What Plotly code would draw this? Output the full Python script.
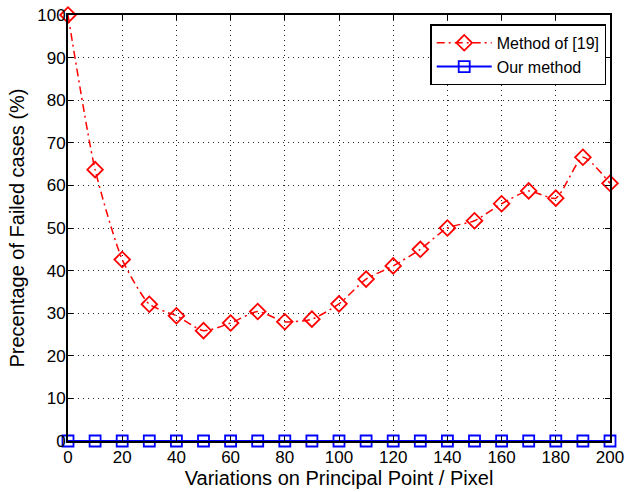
import plotly.graph_objects as go

x_vals = [0, 10, 20, 30, 40, 50, 60, 70, 80, 90, 100, 110, 120, 130, 140, 150, 160, 170, 180, 190, 200]
method19 = [100, 63.7, 42.6, 32.1, 29.4, 25.9, 27.7, 30.4, 28.0, 28.6, 32.2, 38.0, 41.1, 45.0, 50.0, 51.7, 55.7, 58.7, 57.0, 66.6, 60.5]
ours = [0] * 21
x_ticks = [0, 20, 40, 60, 80, 100, 120, 140, 160, 180, 200]
y_ticks = [0, 10, 20, 30, 40, 50, 60, 70, 80, 90, 100]

fig = go.Figure()
fig.add_trace(go.Scatter(
    x=x_vals, y=method19, name="Method of [19]", mode="lines+markers",
    line=dict(color="#ff0000", width=1.5, dash="8px,4px,2px,4px", shape="spline", smoothing=0.6),
    marker=dict(symbol="diamond-open", size=12, color="#ff0000", line=dict(width=1.8)),
    cliponaxis=False,
))
fig.add_trace(go.Scatter(
    x=x_vals, y=ours, name="Our method", mode="lines+markers",
    line=dict(color="#0000ff", width=2),
    marker=dict(symbol="square-open", size=11, color="#0000ff", line=dict(width=1.8)),
    cliponaxis=False,
))

axis_common = dict(
    showline=True, linecolor="black", linewidth=2, mirror="ticks",
    ticks="inside", ticklen=5, tickcolor="black", tickwidth=1,
    showgrid=True, gridcolor="#222222", griddash="1px,4px", gridwidth=1,
    zeroline=False, tickfont=dict(size=17, color="black"), automargin=False,
)
fig.update_xaxes(range=[0, 200], tickvals=x_ticks, ticklabelstandoff=0,
                 title=dict(text="Variations on Principal Point / Pixel", font=dict(size=20, color="black"), standoff=1),
                 **axis_common)
fig.update_yaxes(range=[0, 100], tickvals=y_ticks, ticklabelstandoff=-3,
                 title=dict(text="Precentage of Failed cases (%)", font=dict(size=20, color="black"), standoff=7),
                 **axis_common)

fig.update_layout(
    width=625, height=492,
    margin=dict(l=68, r=15, t=15, b=51),
    plot_bgcolor="white", paper_bgcolor="white",
    font=dict(family="Liberation Sans, Arial, sans-serif", color="black"),
    legend=dict(x=0.993, y=0.978, xanchor="right", yanchor="top",
                bordercolor="black", borderwidth=1.5, bgcolor="white",
                font=dict(size=16, color="black"), tracegroupgap=0, itemwidth=55),
    showlegend=True,
)

fig.write_html("out.html", config={"displayModeBar": False},
               post_script="document.body.style.margin='0';document.body.style.overflow='hidden';")
